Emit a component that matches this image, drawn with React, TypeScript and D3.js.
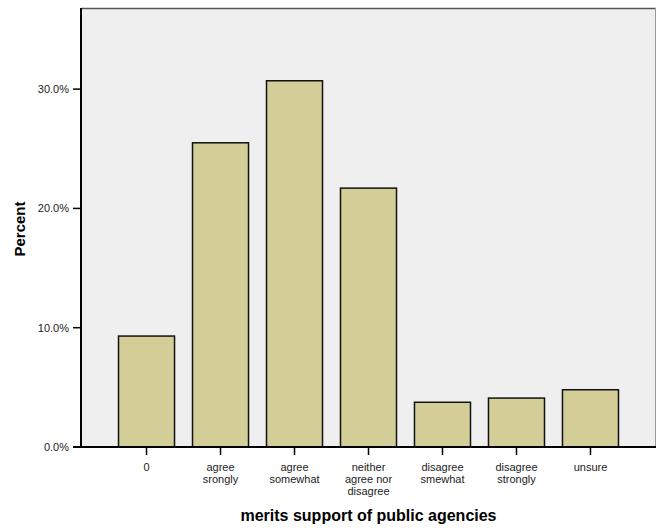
import React from "react";
import * as d3 from "d3";

const categories = ["0", "agree srongly", "agree somewhat", "neither agree nor disagree", "disagree smewhat", "disagree strongly", "unsure"];
const categoryLines = [["0"], ["agree", "srongly"], ["agree", "somewhat"], ["neither", "agree nor", "disagree"], ["disagree", "smewhat"], ["disagree", "strongly"], ["unsure"]];
const percents = [9.3, 25.5, 30.7, 21.7, 3.75, 4.1, 4.8];
const yTicks = [0, 10, 20, 30];

const W = 657, H = 532;
const left = 81, right = 656, top = 8, bottom = 447;

export default function App() {
  const x = d3.scaleBand<string>().domain(categories).range([left, right]).paddingInner(0.243).paddingOuter(0.507);
  const y = d3.scaleLinear().domain([0, 36.8]).range([bottom, top]);
  const font = "Liberation Sans, Arial, sans-serif";
  return (
    <svg width={W} height={H} style={{ position: "absolute", left: 0, top: 0 }} fontFamily={font}>
      <rect x={left} y={top} width={right - left} height={bottom - top} fill="#efefef" />
      <line x1={left} x2={right} y1={top + 0.5} y2={top + 0.5} stroke="#555" strokeWidth={1.5} />
      <line x1={right - 0.5} x2={right - 0.5} y1={top} y2={bottom} stroke="#999" strokeWidth={1} />
      {categories.map((c, i) => (
        <rect key={c} x={x(c)!} y={y(percents[i])} width={x.bandwidth()} height={bottom - y(percents[i])}
          fill="#d3ce97" stroke="#111" strokeWidth={1.5} />
      ))}
      <line x1={left} x2={left} y1={top} y2={bottom + 1} stroke="#000" strokeWidth={2} />
      <line x1={left - 8} x2={right} y1={bottom} y2={bottom} stroke="#000" strokeWidth={2} />
      {yTicks.map(t => (
        <g key={t}>
          <line x1={left - 8} x2={left} y1={y(t)} y2={y(t)} stroke="#000" strokeWidth={1.5} />
          <text x={left - 12} y={y(t)} dy="0.35em" textAnchor="end" fontSize={11} fill="#222">{t.toFixed(1)}%</text>
        </g>
      ))}
      {categories.map((c, i) => {
        const cx = x(c)! + x.bandwidth() / 2;
        return (
          <g key={c}>
            <line x1={cx} x2={cx} y1={bottom} y2={bottom + 8} stroke="#000" strokeWidth={1.5} />
            <text x={cx} textAnchor="middle" fontSize={11} fill="#222">
              {categoryLines[i].map((l, k) => (
                <tspan key={k} x={cx} y={471 + k * 12}>{l}</tspan>
              ))}
            </text>
          </g>
        );
      })}
      <text x={(left + right) / 2} y={521} textAnchor="middle" fontSize={16} fontWeight="bold" fill="#000">merits support of public agencies</text>
      <text transform={`translate(25, 229) rotate(-90)`} textAnchor="middle" fontSize={15} fontWeight="bold" fill="#000">Percent</text>
    </svg>
  );
}
